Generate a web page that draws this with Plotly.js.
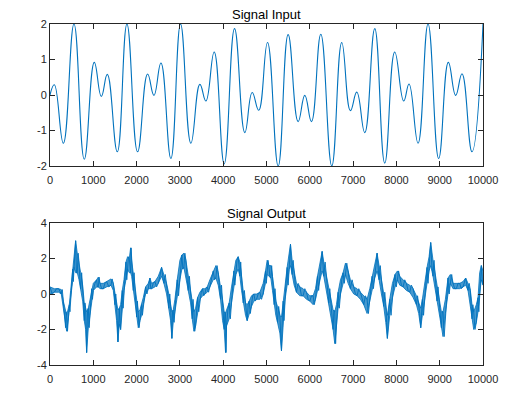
<!DOCTYPE html>
<html>
<head>
<meta charset="utf-8">
<script src="https://cdn.plot.ly/plotly-3.0.1.min.js"></script>
<style>html,body{margin:0;padding:0;background:#fff;}#chart{width:517px;height:398px;}</style>
</head>
<body>
<div id="chart"></div>
<script>
// ---- Signal Input: local extrema ----
const inX = [0,100,308,554,792,1023,1185,1323,1554,1777,2023,2254,2400,2562,2792,3015,3254,3462,3600,3792,4023,4262,4500,4669,4820,5023,5270,5500,5731,5885,6038,6254,6508,6738,6938,7085,7269,7500,7731,7962,8169,8292,8500,8731,8977,9200,9369,9515,9746,10000];
const inY = [0,0.29,-1.36,2.0,-1.81,0.92,-0.04,0.58,-1.6,2.0,-1.6,0.59,-0.01,0.9,-1.79,2.0,-1.36,0.3,-0.17,1.21,-1.94,1.87,-1.06,0.07,-0.43,1.48,-2.0,1.7,-0.75,-0.01,-0.75,1.71,-2.0,1.48,-0.44,0.08,-1.06,1.87,-1.92,1.21,-0.17,0.31,-1.36,2.0,-1.79,0.92,-0.01,0.6,-1.6,2.0];

// ---- Signal Output: noisy band, lower and upper edge ----
const outX = [0,100,200,260,308,360,385,423,446,477,523,554,592,630,670,708,754,792,823,846,885,923,962,1000,1077,1115,1154,1231,1308,1408,1462,1500,1538,1569,1600,1631,1669,1708,1754,1792,1831,1862,1885,1923,1962,2000,2038,2077,2115,2154,2208,2269,2308,2346,2423,2500,2577,2631,2692,2746,2785,2815,2846,2885,2938,3000,3046,3092,3138,3192,3246,3285,3323,3362,3408,3462,3523,3577,3631,3692,3769,3831,3885,3938,3985,4023,4054,4077,4138,4192,4246,4292,4346,4385,4423,4462,4515,4554,4600,4654,4708,4769,4846,4923,4977,5015,5054,5100,5138,5177,5215,5254,5308,5346,5385,5423,5477,5523,5554,5592,5638,5692,5769,5846,5923,6000,6077,6131,6177,6231,6285,6323,6385,6438,6485,6538,6577,6615,6654,6708,6769,6823,6885,6938,7015,7092,7169,7246,7323,7385,7438,7500,7554,7600,7654,7708,7754,7792,7846,7908,7969,8023,8077,8154,8231,8308,8385,8462,8515,8562,8600,8654,8708,8754,8792,8846,8892,8938,8985,9038,9077,9131,9192,9246,9308,9385,9462,9538,9600,9654,9708,9746,9785,9846,9885,9923,9962,10000];
const outLo = [0.0,0.1,0.1,0.0,-0.8,-1.9,-2.1,-1.4,-1.0,-0.2,0.7,1.5,1.2,1.2,0.8,0.3,-0.4,-1.5,-2.0,-3.3,-1.9,-1.2,-0.3,0.2,0.4,0.4,0.3,0.3,0.4,0.5,0.2,-0.6,-1.5,-2.7,-1.7,-2.0,-0.8,0.2,0.8,1.4,1.2,1.2,1.0,0.2,-0.6,-1.3,-1.9,-1.5,-1.2,-0.6,0.0,0.3,0.3,0.3,0.4,0.6,1.0,0.6,0.0,-0.8,-1.5,-2.5,-1.6,-1.0,-0.1,0.8,1.4,1.5,0.9,0.2,-0.5,-1.4,-2.1,-1.8,-1.0,-0.3,-0.1,0.0,0.1,0.4,0.8,0.9,0.5,-0.3,-1.5,-2.0,-3.3,-1.8,-1.4,-0.5,0.5,1.1,1.4,1.0,0.2,-0.5,-1.2,-1.5,-1.1,-0.7,-0.4,-0.3,-0.3,0.0,0.6,1.1,1.0,0.9,0.2,-0.6,-1.2,-1.6,-2.2,-3.2,-1.5,-0.4,0.5,1.4,1.6,1.1,0.5,0.1,-0.1,-0.1,-0.3,-0.4,-0.6,-0.3,0.2,0.8,1.3,1.0,0.2,-0.5,-1.2,-2.0,-2.8,-1.8,-0.8,0.0,0.6,1.1,0.6,0.3,0.0,-0.1,-0.3,-0.6,-1.1,-0.4,0.3,0.9,1.3,0.8,0.0,-0.7,-1.6,-2.5,-1.2,-0.2,0.4,0.8,0.5,0.4,0.2,0.1,-0.2,-0.6,-1.1,-1.9,-1.2,-0.2,0.6,1.3,1.6,1.0,0.3,-0.4,-1.2,-1.9,-2.4,-1.1,0.0,0.6,0.3,0.3,0.3,0.4,0.5,0.2,-0.7,-1.4,-2.0,-1.6,-1.0,0.0,0.8,0.5];
const outHi = [0.4,0.3,0.3,0.25,-0.4,-1.0,-1.2,-0.8,-0.6,0.2,1.4,2.4,3.0,2.3,1.8,1.2,0.5,-0.5,-0.8,-1.0,-0.8,-0.3,0.3,0.6,0.8,0.95,0.6,0.6,0.7,0.85,0.6,0.0,-0.6,-0.9,-0.8,-0.6,0.2,0.8,1.8,2.1,2.0,2.6,1.9,1.2,0.3,-0.4,-1.0,-0.9,-0.6,-0.2,0.4,0.6,0.9,0.6,0.7,1.0,1.5,1.1,0.6,0.0,-0.7,-1.0,-0.9,-0.3,0.8,1.9,2.2,2.3,1.9,1.0,0.3,-0.3,-1.0,-0.8,-0.2,0.1,0.3,0.3,0.4,0.8,1.3,1.6,1.2,0.5,-0.3,-1.0,-1.1,-0.9,-0.5,0.4,1.3,1.9,2.1,1.8,1.0,0.2,-0.5,-0.6,-0.4,-0.1,0.0,0.0,0.1,0.6,1.3,1.9,1.6,1.6,1.0,0.3,-0.4,-0.7,-1.2,-1.3,-0.4,0.6,1.5,2.3,2.8,1.9,1.2,0.6,0.4,0.3,0.1,-0.1,-0.1,0.3,1.0,1.7,2.4,1.8,1.0,0.3,-0.3,-0.9,-1.0,-0.6,0.1,0.8,1.2,1.74,1.3,0.8,0.4,0.3,0.1,-0.1,-0.3,0.3,1.0,1.6,2.3,1.6,0.8,0.1,-0.5,-1.2,-0.3,0.6,1.1,1.3,1.0,0.8,0.6,0.5,0.3,-0.1,-0.5,-0.8,-0.3,0.7,1.5,2.1,2.9,1.9,1.2,0.4,-0.4,-1.0,-1.0,-0.3,0.9,1.1,0.6,0.6,0.6,0.7,0.9,0.6,0.2,-0.6,-1.0,-0.6,-0.2,1.2,1.6,1.3];

// ---- ticks / titles ----
const xTicks = [0,1000,2000,3000,4000,5000,6000,7000,8000,9000,10000];
const inYTicks = [-2,-1,0,1,2];
const outYTicks = [-4,-2,0,2,4];
const titles = ['Signal Input', 'Signal Output'];

const blue = '#0072BD';
const ink = '#262626';
const fam = 'Liberation Sans, Arial, sans-serif';
const tickFont = {family: fam, size: 11, color: ink};

// zig-zag path alternating between the read lower and upper edges (noise texture)
const zzX = [], zzY = [];
for (let i = 0; i < outX.length; i++) {
  zzX.push(outX[i]); zzY.push(i % 2 ? outLo[i] : outHi[i]);
  if (i < outX.length - 1) {
    zzX.push((outX[i] + outX[i + 1]) / 2);
    zzY.push(i % 2 ? outHi[i] : outLo[i]);
  }
}

function axis(extra) {
  return Object.assign({
    showline: true, linecolor: ink, linewidth: 1, mirror: 'ticks',
    ticks: 'inside', ticklen: 5, tickcolor: ink, tickwidth: 1,
    showgrid: false, zeroline: false, tickfont: tickFont, fixedrange: true
  }, extra);
}

const traces = [
  {x: inX, y: inY, xaxis: 'x', yaxis: 'y', mode: 'lines',
   line: {color: blue, width: 1.1, shape: 'spline', smoothing: 1.3}, hoverinfo: 'skip'},
  {x: outX, y: outLo, xaxis: 'x2', yaxis: 'y2', mode: 'lines',
   line: {color: blue, width: 0.8}, hoverinfo: 'skip'},
  {x: outX, y: outHi, xaxis: 'x2', yaxis: 'y2', mode: 'lines', fill: 'tonexty',
   fillcolor: 'rgba(0,114,189,0.72)', line: {color: blue, width: 0.8}, hoverinfo: 'skip'},
  {x: zzX, y: zzY, xaxis: 'x2', yaxis: 'y2', mode: 'lines',
   line: {color: blue, width: 0.9}, hoverinfo: 'skip'}
];

const layout = {
  width: 517, height: 398,
  margin: {l: 50, r: 34, t: 24, b: 33},
  paper_bgcolor: '#fff', plot_bgcolor: '#fff',
  showlegend: false,
  xaxis: axis({domain: [0, 1], range: [0, 10000], tickvals: xTicks, ticktext: xTicks.map(String), anchor: 'y', ticklabelstandoff: 4}),
  yaxis: axis({domain: [0.5836, 1], range: [-2, 2], tickvals: inYTicks, ticktext: inYTicks.map(String), anchor: 'x'}),
  xaxis2: axis({domain: [0, 1], range: [0, 10000], tickvals: xTicks, ticktext: xTicks.map(String), anchor: 'y2', ticklabelstandoff: 4}),
  yaxis2: axis({domain: [0, 0.4164], range: [-4, 4], tickvals: outYTicks, ticktext: outYTicks.map(String), anchor: 'x2'}),
  annotations: [
    {text: titles[0], xref: 'paper', yref: 'paper', x: 0.5, y: 1, yanchor: 'bottom', showarrow: false, yshift: 0,
     font: {family: fam, size: 13, color: '#000'}},
    {text: titles[1], xref: 'paper', yref: 'paper', x: 0.5, y: 0.4164, yanchor: 'bottom', showarrow: false, yshift: 0,
     font: {family: fam, size: 13, color: '#000'}}
  ]
};

Plotly.newPlot('chart', traces, layout, {staticPlot: true, displayModeBar: false});
</script>
</body>
</html>
